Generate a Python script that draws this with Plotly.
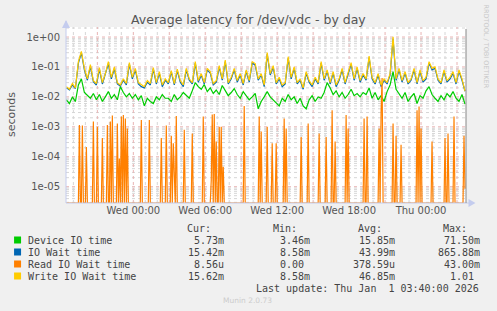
import numpy as np
import pandas as pd
import plotly.graph_objects as go

# ---------------- data ----------------
start_time = "2025-12-30 18:25"
step_minutes = 15

device_ms = [8, 6, 10, 7, 25, 40, 14, 11, 9, 13, 8, 12, 7, 10, 15, 9, 12, 8, 22, 14, 10, 13, 9, 12, 8, 11, 5, 9, 7, 6, 10, 8, 12, 9,
             9, 7, 12, 8, 10, 14, 11, 9, 16, 30, 22, 18, 26, 15, 20, 13, 17, 12, 24, 16, 11, 14, 19, 12, 9, 15, 11, 8, 10, 13, 4, 7, 10,
             15, 10, 8, 6, 5, 9, 7, 12, 8, 10, 6, 9, 5, 4, 8, 11, 7, 10, 9, 14, 30, 20, 12, 16, 10, 14, 9, 12, 18, 11, 13, 10, 14,
             12, 20, 9, 14, 8, 11, 7, 15, 25, 70, 18, 12, 9, 14, 7, 10, 13, 6, 11, 9, 16, 22, 12, 9, 7, 11, 8, 13, 10, 15, 9, 7, 12, 5.73]

iowait_ms = [20, 17, 25, 19, 135, 300, 80, 36, 105, 32, 25, 85, 27, 55, 130, 40, 88, 27, 23, 36, 25, 125, 40, 80, 27, 22, 20, 31, 25, 85, 27, 62, 22, 36,
             27, 68, 25, 76, 31, 22, 80, 36, 27, 135, 31, 54, 27, 80, 62, 25, 31, 98, 36, 150, 27, 40, 80, 31, 54, 25, 72, 31, 135, 115, 36, 54, 22,
             270, 54, 98, 27, 40, 22, 27, 195, 40, 90, 27, 36, 18, 62, 31, 22, 40, 27, 135, 36, 72, 27, 62, 22, 36, 80, 27, 54, 125, 36, 90, 31, 54,
             36, 205, 40, 27, 54, 22, 36, 27, 54, 865.88, 36, 80, 31, 62, 27, 36, 80, 27, 72, 31, 40, 135, 80, 90, 36, 27, 72, 31, 40, 62, 27, 72, 36, 15.42]

write_ms = [22, 18, 28, 20, 150, 330, 90, 40, 120, 35, 28, 95, 30, 60, 150, 45, 100, 30, 25, 40, 28, 140, 45, 90, 30, 25, 22, 35, 28, 95, 30, 70, 25, 40,
            30, 75, 28, 85, 35, 25, 90, 40, 30, 150, 35, 60, 30, 90, 70, 28, 35, 110, 40, 170, 30, 45, 90, 35, 60, 28, 80, 35, 150, 130, 40, 60, 25,
            300, 60, 110, 30, 45, 25, 30, 220, 45, 100, 30, 40, 20, 70, 35, 25, 45, 30, 150, 40, 80, 30, 70, 25, 40, 90, 30, 60, 140, 40, 100, 35, 60,
            40, 230, 45, 30, 60, 25, 40, 30, 60, 1010, 40, 90, 35, 70, 30, 40, 90, 30, 80, 35, 45, 150, 90, 100, 40, 30, 80, 35, 45, 70, 30, 80, 40, 15.62]

# Read IO wait: 5-minute samples, zero except at these slots
read_slots = 400
read_slot_minutes = 5
read_spike_slot = [13, 16, 20, 27, 31, 36, 41, 44, 46, 51, 53, 55, 57, 59, 61, 75, 83, 95,
                   100, 105, 107, 108, 110, 118, 126, 137, 145, 146, 148, 150, 153, 155, 157, 178, 193, 195,
                   201, 206, 210, 218, 220, 235, 242, 253, 260, 266, 269, 280, 282, 298,
                   301, 313, 315, 316, 327, 330, 335, 351, 353, 355, 366, 379, 382, 388, 398, 399]
read_spike_us = [1150, 1100, 210, 1500, 1000, 420, 1150, 1500, 2400, 1300, 87, 2200, 2500, 1900, 880, 1700, 1700, 420,
                 1100, 500, 280, 15, 2300, 800, 600, 2200, 16, 2600, 2700, 320, 1000, 1000, 46, 5000, 2200, 700,
                 1000, 280, 280, 1900, 880, 460, 1300, 600, 460, 3600, 320, 2500, 880, 1900,
                 2200, 880, 3100, 43000, 1300, 500, 250, 3600, 4800, 880, 320, 420, 600, 2200, 500, 8.56]

series_names = ["Device IO time", "IO Wait time", "Read IO Wait time", "Write IO Wait time"]
series_colors = ["#00CC00", "#0066B3", "#FF8000", "#FFCC00"]
stat_cur = ["5.73m", "15.42m", "8.56u", "15.62m"]
stat_min = ["3.46m", "8.58m", "0.00", "8.58m"]
stat_avg = ["15.85m", "43.99m", "378.59u", "46.85m"]
stat_max = ["71.50m", "865.88m", "43.00m", "1.01"]

x_range = ["2025-12-30 18:23", "2026-01-01 03:45"]
tick_times = ["2025-12-31 00:00", "2025-12-31 06:00", "2025-12-31 12:00", "2025-12-31 18:00", "2026-01-01 00:00"]
tick_labels = ["Wed 00:00", "Wed 06:00", "Wed 12:00", "Wed 18:00", "Thu 00:00"]
y_tick_vals = [1e0, 1e-1, 1e-2, 1e-3, 1e-4, 1e-5]
y_tick_text = ["1e+00", "1e-01", "1e-02", "1e-03", "1e-04", "1e-05"]
y_log_range = [-5.545, 0.335]

# ---------------- build ----------------
W, H = 497, 311
PL, PR, PT, PB = 66, 466.5, 27, 203


def px(x):
    return (x - PL) / (PR - PL)


def py(y):
    return (PB - y) / (PB - PT)


t15 = pd.date_range(start_time, periods=len(device_ms), freq=f"{step_minutes}min")
t15_io = pd.date_range(start_time, periods=len(iowait_ms), freq=f"{step_minutes}min")
t15_w = pd.date_range(start_time, periods=len(write_ms), freq=f"{step_minutes}min")
t5 = pd.date_range(start_time, periods=read_slots, freq=f"{read_slot_minutes}min")
read_vals = np.zeros(read_slots)
for s, v in zip(read_spike_slot, read_spike_us):
    read_vals[s] = v / 1e6
floor_val = 10 ** y_log_range[0]
read_plot = np.maximum(read_vals, floor_val)  # rrdtool draws zeros at the bottom edge

fig = go.Figure()
fig.add_trace(go.Scatter(x=t15, y=np.array(device_ms) / 1000, mode="lines",
                         line=dict(color=series_colors[0], width=1.2), name=series_names[0]))
fig.add_trace(go.Scatter(x=t15_io, y=np.array(iowait_ms) / 1000, mode="lines",
                         line=dict(color=series_colors[1], width=1.2), name=series_names[1]))
fig.add_trace(go.Scatter(x=t5, y=read_plot, mode="lines",
                         line=dict(color=series_colors[2], width=1.2), name=series_names[2]))
fig.add_trace(go.Scatter(x=t15_w, y=np.array(write_ms) / 1000, mode="lines",
                         line=dict(color=series_colors[3], width=1.2), name=series_names[3]))

shapes = []
# horizontal grid
for k in range(-6, 1):
    for m in range(1, 10):
        v = m * 10 ** k
        lv = np.log10(v)
        if lv < y_log_range[0] or lv > y_log_range[1]:
            continue
        major = (m == 1)
        shapes.append(dict(type="line", xref="paper", yref="y", x0=0, x1=1, y0=v, y1=v, layer="below",
                           line=dict(color="#E8B4B4" if major else "#D6D6D6", width=1, dash="dot")))
# vertical grid (hourly, major every 3 h)
hours = pd.date_range("2025-12-30 19:00", "2026-01-01 03:00", freq="1h")
for h in hours:
    major = (h.hour % 3 == 0)
    shapes.append(dict(type="line", xref="x", yref="paper", x0=h, x1=h, y0=0, y1=1, layer="below",
                       line=dict(color="#E8B4B4" if major else "#D6D6D6", width=1, dash="dot")))
# axes, right edge, arrows
shapes.append(dict(type="line", xref="paper", yref="paper", x0=0, x1=0, y0=0, y1=py(21),
                   line=dict(color="#C4CCEE", width=1)))
shapes.append(dict(type="line", xref="paper", yref="paper", x0=0, x1=px(473), y0=0, y1=0,
                   line=dict(color="#C4CCEE", width=1)))
shapes.append(dict(type="line", xref="paper", yref="paper", x0=1, x1=1, y0=0, y1=py(PT + 2),
                   line=dict(color="#888888", width=1)))
shapes.append(dict(type="path", xref="paper", yref="paper",
                   path=f"M {px(62)} {py(28)} L {px(70)} {py(28)} L {px(66)} {py(20)} Z",
                   fillcolor="#C4CCEE", line=dict(width=0)))
shapes.append(dict(type="path", xref="paper", yref="paper",
                   path=f"M {px(469)} {py(199)} L {px(469)} {py(207)} L {px(476)} {py(203)} Z",
                   fillcolor="#C4CCEE", line=dict(width=0)))

ann = []
MONO = "DejaVu Sans Mono"
SANS = "DejaVu Sans"
TXT = "#444444"
ann.append(dict(text="Average latency for /dev/vdc - by day", x=px(248.5), y=py(20), xref="paper", yref="paper",
                showarrow=False, font=dict(family=SANS, size=12.5, color="#555555"), xanchor="center", yanchor="middle"))
ann.append(dict(text="seconds", x=px(11), y=py(115), xref="paper", yref="paper", textangle=-90,
                showarrow=False, font=dict(family=SANS, size=11, color="#555555"), xanchor="center", yanchor="middle"))
ann.append(dict(text="RRDTOOL / TOBI OETIKER", x=px(487), y=py(47), xref="paper", yref="paper", textangle=90,
                showarrow=False, font=dict(family=SANS, size=6.5, color="#C8C8C8"), xanchor="center", yanchor="middle"))

header_y = 228
row_y = [240, 252, 264, 276]
col_right = [226, 312, 397, 483]
for label, xr in zip(["Cur:", "Min:", "Avg:", "Max:"], col_right):
    ann.append(dict(text=label, x=px(xr - 13), y=py(header_y), xref="paper", yref="paper", showarrow=False,
                    font=dict(family=MONO, size=10, color=TXT), xanchor="right", yanchor="middle"))
for i, name in enumerate(series_names):
    y = row_y[i]
    shapes.append(dict(type="rect", xref="paper", yref="paper", x0=px(14), x1=px(21), y0=py(y + 3.5), y1=py(y - 3.5),
                       fillcolor=series_colors[i], line=dict(width=0)))
    ann.append(dict(text=name, x=px(26), y=py(y), xref="paper", yref="paper", showarrow=False,
                    font=dict(family=MONO, size=10, color=TXT), xanchor="left", yanchor="middle"))
    for vals, xr in zip([stat_cur, stat_min, stat_avg, stat_max], col_right):
        s = vals[i]
        off = 0 if s[-1].isalpha() else 6
        ann.append(dict(text=s, x=px(xr - off), y=py(y), xref="paper", yref="paper", showarrow=False,
                        font=dict(family=MONO, size=10, color=TXT), xanchor="right", yanchor="middle"))
ann.append(dict(text="Last update: Thu Jan\u00a0\u00a01 03:40:00 2026", x=px(482), y=py(288), xref="paper", yref="paper",
                showarrow=False, font=dict(family=MONO, size=10, color=TXT), xanchor="right", yanchor="middle"))
ann.append(dict(text="Munin 2.0.73", x=px(248), y=py(300), xref="paper", yref="paper",
                showarrow=False, font=dict(family=SANS, size=7.5, color="#CCCCCC"), xanchor="center", yanchor="middle"))

fig.update_layout(
    width=W, height=H,
    margin=dict(l=PL, r=W - PR, t=PT, b=H - PB, pad=0),
    paper_bgcolor="#F0F0F0", plot_bgcolor="#FFFFFF",
    showlegend=False,
    shapes=shapes, annotations=ann,
    xaxis=dict(type="date", range=x_range, tickvals=tick_times, ticktext=tick_labels, showgrid=False,
               zeroline=False, showline=False, ticks="", tickfont=dict(family=SANS, size=10, color="#555555"),
               fixedrange=True),
    yaxis=dict(type="log", range=y_log_range, tickvals=y_tick_vals, ticktext=y_tick_text, showgrid=False,
               zeroline=False, showline=False, ticks="", ticklabelstandoff=5,
               tickfont=dict(family=SANS, size=10, color="#555555"), fixedrange=True),
)

fig.write_html("out.html", config={"displayModeBar": False})
